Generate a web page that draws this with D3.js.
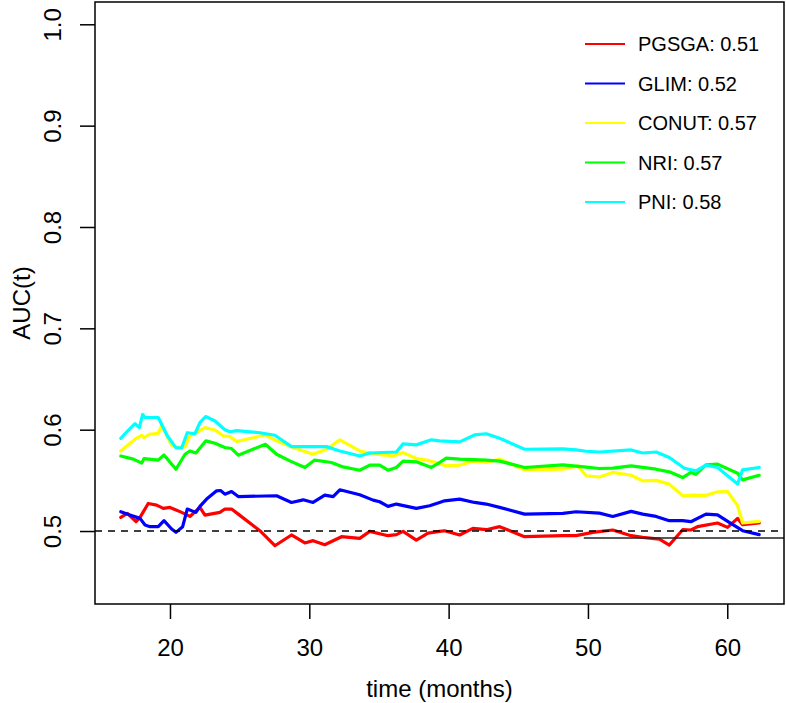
<!DOCTYPE html>
<html>
<head>
<meta charset="utf-8">
<script src="https://cdn.jsdelivr.net/npm/d3@7"></script>
<style>
html,body{margin:0;padding:0;background:#fff;}
svg{display:block;font-family:"Liberation Sans",Arial,Helvetica,sans-serif;}
</style>
</head>
<body>
<svg id="chart" width="786" height="703"></svg>
<script>
// ---------- data ----------
const seriesNames = ["PGSGA", "GLIM", "CONUT", "NRI", "PNI"];
const seriesAUC = ["0.51", "0.52", "0.57", "0.57", "0.58"];
const seriesColors = ["#ff0000", "#0000ff", "#ffff00", "#00ff00", "#00ffff"];

const pgsgaTime = [16.47,16.94,17.56,17.85,18.44,19.04,19.52,20.00,20.84,21.43,22.15,22.51,23.58,23.94,24.42,24.90,26.45,27.53,28.72,29.68,30.27,31.11,32.31,33.62,34.34,35.65,36.25,36.73,37.68,38.52,39.35,39.71,40.79,41.74,42.70,43.66,45.45,48.20,49.15,50.35,51.78,53.10,53.93,55.13,55.84,56.80,57.39,57.87,59.30,60.02,60.74,61.10,62.29];
const pgsgaAUC = [0.5135,0.5174,0.5092,0.5135,0.5272,0.5256,0.5223,0.5233,0.5184,0.5144,0.5233,0.5157,0.5184,0.5217,0.5217,0.5167,0.5003,0.4855,0.4961,0.4882,0.4905,0.4865,0.4944,0.4928,0.4997,0.4954,0.4964,0.4997,0.4911,0.4980,0.4997,0.5003,0.4961,0.5026,0.5013,0.5043,0.4944,0.4954,0.4954,0.4987,0.5010,0.4954,0.4938,0.4921,0.4862,0.5013,0.5010,0.5043,0.5079,0.5036,0.5125,0.5062,0.5079];

const glimTime = [16.47,17.13,17.85,18.21,18.57,19.16,19.57,20.12,20.43,20.91,21.24,21.86,22.15,22.63,23.35,23.63,23.94,24.42,24.90,27.65,28.72,29.56,30.27,31.11,31.71,32.19,33.62,34.58,35.05,35.65,36.25,37.68,38.64,39.35,39.71,40.79,41.86,42.70,43.66,45.45,48.20,49.15,50.82,51.78,53.10,53.93,54.89,55.84,56.80,57.39,58.47,59.30,60.14,61.10,62.29];
const glimAUC = [0.5190,0.5157,0.5125,0.5059,0.5043,0.5043,0.5102,0.5020,0.4987,0.5043,0.5217,0.5184,0.5243,0.5315,0.5397,0.5400,0.5364,0.5390,0.5340,0.5348,0.5282,0.5308,0.5282,0.5354,0.5340,0.5407,0.5358,0.5305,0.5289,0.5243,0.5266,0.5223,0.5250,0.5282,0.5298,0.5315,0.5282,0.5266,0.5233,0.5167,0.5174,0.5190,0.5177,0.5144,0.5194,0.5167,0.5144,0.5102,0.5102,0.5092,0.5167,0.5160,0.5085,0.5003,0.4964];

const conutTime = [16.47,17.49,17.97,18.14,18.52,19.16,19.40,20.12,20.53,21.08,21.43,21.91,22.51,23.23,23.82,24.30,24.78,25.97,26.80,27.65,28.84,30.27,31.23,32.19,33.62,34.82,36.01,36.73,37.68,38.40,39.11,39.83,40.79,41.74,42.70,43.66,45.45,48.20,49.27,49.87,50.82,51.78,53.10,53.93,54.89,55.84,56.80,57.51,58.47,59.30,60.02,60.74,61.10,62.29];
const conutAUC = [0.5790,0.5906,0.5945,0.5920,0.5955,0.5965,0.6040,0.5846,0.5824,0.5830,0.5940,0.5970,0.6020,0.5997,0.5940,0.5932,0.5883,0.5920,0.5950,0.5890,0.5824,0.5758,0.5807,0.5900,0.5790,0.5758,0.5740,0.5774,0.5715,0.5700,0.5676,0.5643,0.5650,0.5690,0.5676,0.5710,0.5604,0.5610,0.5643,0.5545,0.5533,0.5578,0.5550,0.5495,0.5500,0.5463,0.5348,0.5355,0.5352,0.5387,0.5390,0.5250,0.5079,0.5095];

const nriTime = [16.47,17.37,17.97,18.14,19.16,19.57,20.43,21.08,21.43,21.86,22.58,23.23,23.94,24.42,24.90,26.85,27.65,28.60,29.68,30.39,31.59,32.42,33.62,34.34,35.05,35.65,36.25,36.73,37.68,38.76,39.35,39.83,40.79,42.70,43.66,45.45,48.20,49.87,50.82,51.78,53.10,54.89,55.84,56.80,57.39,57.75,58.47,59.30,60.74,61.10,62.29];
const nriAUC = [0.5740,0.5710,0.5670,0.5715,0.5700,0.5750,0.5610,0.5758,0.5790,0.5770,0.5890,0.5866,0.5824,0.5814,0.5748,0.5856,0.5758,0.5692,0.5627,0.5700,0.5676,0.5633,0.5600,0.5650,0.5650,0.5600,0.5627,0.5690,0.5683,0.5627,0.5676,0.5719,0.5710,0.5700,0.5690,0.5627,0.5653,0.5630,0.5617,0.5620,0.5643,0.5610,0.5584,0.5528,0.5578,0.5560,0.5653,0.5660,0.5570,0.5505,0.5550];

const pniTime = [16.47,16.85,17.49,17.80,18.04,18.21,19.16,19.81,20.43,20.84,21.24,21.79,22.15,22.56,23.23,23.94,24.30,24.78,26.45,27.53,28.72,31.23,32.19,33.62,34.34,36.25,36.73,37.68,38.76,39.35,40.79,41.86,42.70,43.66,45.45,48.20,49.15,49.87,50.82,53.10,53.93,54.89,55.84,56.92,57.75,58.47,59.30,60.74,61.10,62.29];
const pniAUC = [0.5915,0.5970,0.6060,0.6020,0.6150,0.6120,0.6120,0.5940,0.5820,0.5820,0.5970,0.5960,0.6070,0.6130,0.6086,0.6000,0.5980,0.5990,0.5970,0.5945,0.5833,0.5833,0.5790,0.5740,0.5770,0.5780,0.5860,0.5850,0.5900,0.5890,0.5880,0.5948,0.5960,0.5915,0.5807,0.5810,0.5800,0.5787,0.5780,0.5800,0.5770,0.5780,0.5725,0.5620,0.5594,0.5650,0.5627,0.5463,0.5604,0.5627];

const xTicks = [20, 30, 40, 50, 60];
const yTicks = [0.5, 0.6, 0.7, 0.8, 0.9, 1.0];
const xLabel = "time (months)";
const yLabel = "AUC(t)";
const refLevel = 0.5;
const segLevel = 0.4931;
const segStart = 49.7;

const allTimes = [pgsgaTime, glimTime, conutTime, nriTime, pniTime];
const allAUC = [pgsgaAUC, glimAUC, conutAUC, nriAUC, pniAUC];

// ---------- layout ----------
const box = {left: 95, right: 784, top: 2, bottom: 604};
const tMin = 16.45, tMax = 62.24, padX = 0.04 * (tMax - tMin);
const yMin = 0.45, yMax = 1.0, padY = 0.04 * (yMax - yMin);

const x = d3.scaleLinear().domain([tMin - padX, tMax + padX]).range([box.left, box.right]);
const y = d3.scaleLinear().domain([yMin - padY, yMax + padY]).range([box.bottom, box.top]);

const svg = d3.select("#chart");
svg.append("rect").attr("width", 786).attr("height", 703).attr("fill", "#fff");

// series lines
const line = d3.line().x(d => x(d[0])).y(d => y(d[1]));
seriesNames.forEach((name, i) => {
  const pts = allTimes[i].map((t, j) => [t, allAUC[i][j]]);
  svg.append("path")
    .datum(pts)
    .attr("d", line)
    .attr("fill", "none")
    .attr("stroke", seriesColors[i])
    .attr("stroke-width", 3.2)
    .attr("stroke-linejoin", "round")
    .attr("stroke-linecap", "round");
});

// dashed reference line at 0.5
svg.append("line")
  .attr("x1", box.left).attr("x2", box.right)
  .attr("y1", y(refLevel)).attr("y2", y(refLevel))
  .attr("stroke", "#000").attr("stroke-width", 1.5)
  .attr("stroke-dasharray", "7,6");

// solid segment
svg.append("line")
  .attr("x1", x(segStart)).attr("x2", box.right)
  .attr("y1", y(segLevel)).attr("y2", y(segLevel))
  .attr("stroke", "#222").attr("stroke-width", 1.6);

// box
svg.append("rect")
  .attr("x", box.left).attr("y", box.top)
  .attr("width", box.right - box.left).attr("height", box.bottom - box.top)
  .attr("fill", "none").attr("stroke", "#000").attr("stroke-width", 1.5);

// x axis
const xAxis = d3.axisBottom(x).tickValues(xTicks).tickSize(15).tickPadding(20).tickFormat(d3.format("d"));
const gx = svg.append("g").attr("transform", `translate(0,${box.bottom})`).call(xAxis);
gx.select(".domain").remove();
gx.selectAll(".tick line").attr("stroke", "#000").attr("stroke-width", 1.5);
gx.selectAll(".tick text").attr("font-size", 24).attr("fill", "#000")
  .attr("font-family", "Liberation Sans, Arial, sans-serif");

// y axis
const yAxis = d3.axisLeft(y).tickValues(yTicks).tickSize(15).tickFormat(d3.format(".1f"));
const gy = svg.append("g").attr("transform", `translate(${box.left},0)`).call(yAxis);
gy.select(".domain").remove();
gy.selectAll(".tick line").attr("stroke", "#000").attr("stroke-width", 1.5);
gy.selectAll(".tick text")
  .attr("font-size", 24).attr("fill", "#000")
  .attr("font-family", "Liberation Sans, Arial, sans-serif")
  .attr("x", null).attr("dy", null)
  .attr("text-anchor", "middle")
  .attr("transform", "translate(-34,0) rotate(-90)");

// axis titles
svg.append("text")
  .attr("x", (box.left + box.right) / 2).attr("y", 697)
  .attr("text-anchor", "middle").attr("font-size", 24).attr("fill", "#000")
  .text(xLabel);
svg.append("text")
  .attr("transform", `translate(30,${(box.top + box.bottom) / 2}) rotate(-90)`)
  .attr("text-anchor", "middle").attr("font-size", 24).attr("fill", "#000")
  .text(yLabel);

// legend
const legendY = d3.scaleLinear().domain([0, 4]).range([44, 202]);
seriesNames.forEach((name, i) => {
  const ly = legendY(i);
  svg.append("line")
    .attr("x1", 585).attr("x2", 625).attr("y1", ly).attr("y2", ly)
    .attr("stroke", seriesColors[i]).attr("stroke-width", 2);
  svg.append("text")
    .attr("x", 638).attr("y", ly).attr("dy", "0.35em")
    .attr("font-size", 20).attr("fill", "#000")
    .text(`${name}: ${seriesAUC[i]}`);
});
</script>
</body>
</html>
